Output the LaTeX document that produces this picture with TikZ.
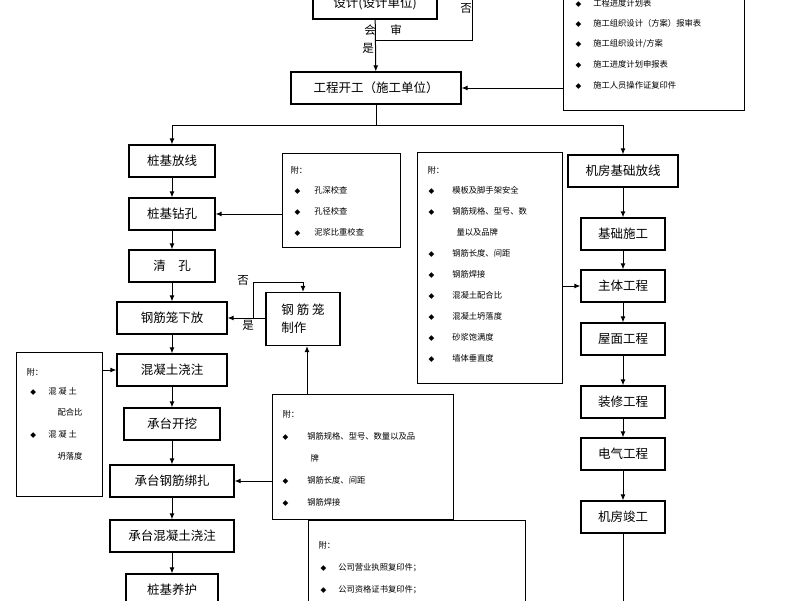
\documentclass[tikz,border=0pt]{standalone}
\usepackage{fontspec}
\setmainfont{Noto Sans CJK SC}
\newfontfamily\symfont{DejaVu Sans}
\usetikzlibrary{positioning,arrows.meta}
\newcommand{\dia}{{\symfont\fontsize{7.5}{7.5}\selectfont ◆}}

\begin{document}
\begin{tikzpicture}[x=1pt,y=-1pt,>={Latex[length=6pt,width=5pt]},
	every path/.style={line width=1pt},
	stage/.style={draw, line width=1.2pt, minimum height=32pt, inner sep=2pt, font=\fontsize{12.5}{14}\selectfont},
	note/.style={draw, line width=1.2pt, anchor=north west, inner sep=0pt},
	item/.style={anchor=west, inner sep=0pt, font=\fontsize{8.3}{9}\selectfont},
	tag/.style={inner sep=0pt, font=\fontsize{11.5}{12}\selectfont}]
\useasboundingbox (0,0) rectangle (800,600);

% Design and start
\node[stage, minimum width=124pt] (Design) at (375,3) {设计(设计单位)};
\node[stage, minimum width=170pt] (Start) at (376,88) {工程开工（施工单位）};
\coordinate (Back) at (472,0);
\coordinate (Join) at (376,40);
\draw (Back) -- (Back |- Join) -- (Join);
\draw[->] (Design) -- (Start);
\node[tag] (Ask1) at (370,30) {会};
\node[tag] (Ask2) at (396,30) {审};
\node[tag] (Yes1) at (368,48) {是};
\node[tag] (No1) at (466,8) {否};

% Note: start
\node[note, minimum width=181pt, minimum height=122pt] (NoteA) at (563,-12) {};
\foreach \t [count=\i] in {工程进度计划表,施工组织设计（方案）报审表,施工组织设计/方案,施工进度计划申报表,施工人员操作证复印件}
{
	\node[item] (NoteA-\i) at (575,{3+20.5*(\i-1)}) {\dia\hspace{12pt}\t};
}
\draw[->] (NoteA.west |- Start) -- (Start);

% Pile column
\foreach \n/\t/\y/\w in {P1/桩基放线/161/86,P2/桩基钻孔/214/86,P3/清\quad 孔/266/86,
	P4/钢筋笼下放/318/110,P5/混凝土浇注/370/110,P6/承台开挖/424/96,
	P7/承台钢筋绑扎/481/124,P8/承台混凝土浇注/536/124,P9/桩基养护/590/92}
{
	\node[stage, minimum width=\w pt] (\n) at (172,\y) {\t};
}
\foreach \a/\b in {P1/P2,P2/P3,P3/P4,P4/P5,P5/P6,P6/P7,P7/P8,P8/P9}
{
	\draw[->] (\a) -- (\b);
}
\coordinate (PEnd) at (172,610);
\draw (P9) -- (PEnd);

% Machine room column
\foreach \n/\t/\y/\w in {M1/机房基础放线/171/110,M2/基础施工/234/84,M3/主体工程/286/84,
	M4/屋面工程/339/84,M5/装修工程/402/84,M6/电气工程/454/84,M7/机房竣工/517/84}
{
	\node[stage, minimum width=\w pt] (\n) at (623,\y) {\t};
}
\foreach \a/\b in {M1/M2,M2/M3,M3/M4,M4/M5,M5/M6,M6/M7}
{
	\draw[->] (\a) -- (\b);
}
\coordinate (MEnd) at (623,610);
\draw (M7) -- (MEnd);

% Split
\coordinate (Split) at (376,125);
\draw (Start) -- (Split);
\draw[->] (Split) -| (P1);
\draw[->] (Split) -| (M1);

% Note: hole
\node[note, minimum width=118pt, minimum height=94pt] (NoteB) at (282,153) {};
\node[item] (NoteB-0) at (290,170) {附：};
\foreach \t [count=\i] in {孔深校查,孔径校查,泥浆比重校查}
{
	\node[item] (NoteB-\i) at (294,{190+21*(\i-1)}) {\dia\hspace{14pt}\t};
}
\draw[->] (NoteB.west |- P2) -- (P2);

% Cage
\node[draw, line width=1.2pt, minimum width=74pt, minimum height=53pt, align=left,
	font=\fontsize{12.5}{18}\selectfont] (Cage) at (303,319) {钢 筋 笼\\制作};
\draw[->] (Cage.west |- P4) -- (P4);
\coordinate (Loop) at (253,282);
\draw[->] (Loop |- P4) -- (Loop) -| (Cage.north);
\node[tag] (Yes2) at (248,325) {是};
\node[tag] (No2) at (243,280) {否};

% Note: concrete
\node[note, minimum width=86pt, minimum height=144pt] (NoteC) at (16,352) {};
\node[item] (NoteC-0) at (26,372) {附：};
\node[item] (NoteC-1) at (30,391) {\dia\hspace{12pt}混 凝 土};
\node[item] (NoteC-2) at (57,412) {配合比};
\node[item] (NoteC-3) at (30,434) {\dia\hspace{12pt}混 凝 土};
\node[item] (NoteC-4) at (57,456) {坍落度};
\draw[->] (NoteC.east |- P5) -- (P5);

% Note: rebar
\node[note, minimum width=181pt, minimum height=125pt] (NoteD) at (272,394) {};
\node[item] (NoteD-0) at (282,414) {附：};
\node[item] (NoteD-1) at (282,436) {\dia\hspace{19pt}钢筋规格、型号、数量以及品};
\node[item] (NoteD-2) at (310,458) {牌};
\node[item] (NoteD-3) at (282,480) {\dia\hspace{19pt}钢筋长度、间距};
\node[item] (NoteD-4) at (282,502) {\dia\hspace{19pt}钢筋焊接};
\draw[->] (NoteD.west |- P7) -- (P7);
\draw[->] (NoteD.north -| 307,0) -- (Cage.south -| 307,0);

% Note: main works
\node[note, minimum width=145pt, minimum height=231pt] (NoteE) at (417,152) {};
\node[item] (NoteE-0) at (427,170) {附：};
\foreach \t/\y in {模板及脚手架安全/190,钢筋规格、型号、数/211,钢筋长度、间距/253,钢筋焊接/274,
	混凝土配合比/295,混凝土坍落度/316,砂浆饱满度/337,墙体垂直度/358}
{
	\node[item] (NoteE-\y) at (428,\y) {\dia\hspace{18pt}\t};
}
\node[item] (NoteE-q) at (456,232) {量以及品牌};
\draw[->] (NoteE.east |- M3) -- (M3);

% Note: company
\node[note, minimum width=217pt, minimum height=100pt] (NoteF) at (308,520) {};
\node[item] (NoteF-0) at (318,545) {附：};
\foreach \t [count=\i] in {公司营业执照复印件；,公司资格证书复印件；,公司施工资质证书复印件；}
{
	\node[item] (NoteF-\i) at (320,{568+22*(\i-1)}) {\dia\hspace{12pt}\t};
}

\end{tikzpicture}
\end{document}
